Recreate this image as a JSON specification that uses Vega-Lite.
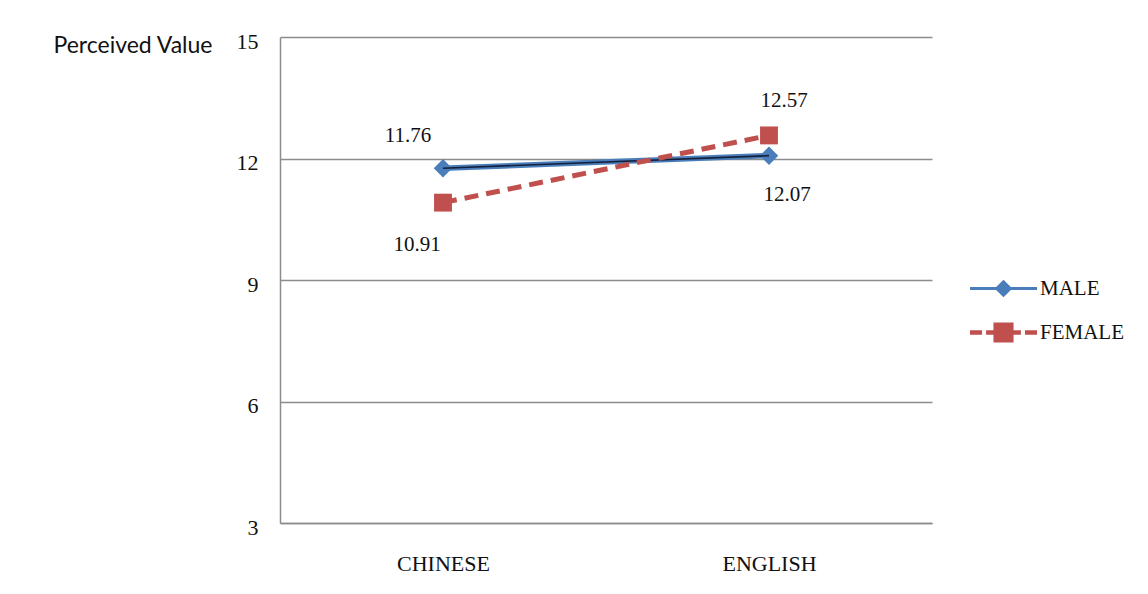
{
  "$schema": "https://vega.github.io/schema/vega-lite/v6.json",
  "autosize": {"type": "none"},
  "width": 652,
  "height": 486,
  "padding": {"left": 280, "top": 37, "right": 216, "bottom": 71},
  "background": "white",
  "config": {
    "view": {"stroke": null},
    "font": "Liberation Serif",
    "axis": {"labelFont": "Liberation Serif"}
  },
  "data": {
    "values": [
      {"language": "CHINESE", "gender": "MALE", "value": 11.76},
      {"language": "ENGLISH", "gender": "MALE", "value": 12.07},
      {"language": "CHINESE", "gender": "FEMALE", "value": 10.91},
      {"language": "ENGLISH", "gender": "FEMALE", "value": 12.57}
    ]
  },
  "encoding": {
    "x": {
      "field": "language",
      "type": "nominal",
      "sort": ["CHINESE", "ENGLISH"],
      "scale": {"type": "point", "padding": 0.5},
      "axis": {
        "title": null,
        "labelAngle": 0,
        "labelFont": "Liberation Serif",
        "labelFontSize": 22,
        "labelColor": "#111",
        "labelPadding": 30,
        "ticks": false,
        "domainColor": "#8c8c8c",
        "domainWidth": 1.5,
        "grid": false
      }
    },
    "y": {
      "field": "value",
      "type": "quantitative",
      "scale": {"domain": [3, 15], "nice": false, "zero": false},
      "axis": {
        "values": [3, 6, 9, 12, 15],
        "title": "Perceived Value",
        "titleAngle": 0,
        "titleAlign": "right",
        "titleBaseline": "middle",
        "titleX": -68,
        "titleY": 8,
        "titleFont": "Lato",
        "titleFontSize": 23,
        "titleFontWeight": "normal",
        "titleColor": "#111",
        "labelFont": "Liberation Serif",
        "labelFontSize": 22,
        "labelColor": "#111",
        "labelPadding": 22,
        "labelOffset": 4,
        "ticks": false,
        "domainColor": "#8c8c8c",
        "domainWidth": 1.5,
        "grid": true,
        "gridColor": "#8c8c8c",
        "gridWidth": 1.5
      }
    }
  },
  "layer": [
    {
      "transform": [{"filter": "datum.gender === 'MALE'"}],
      "mark": {"type": "line", "strokeWidth": 5.5},
      "encoding": {
        "color": {
          "field": "gender",
          "type": "nominal",
          "scale": {"domain": ["MALE", "FEMALE"], "range": ["#4A7EBB", "#C0504D"]},
          "legend": {
            "title": null,
            "orient": "none",
            "legendX": 690,
            "legendY": 218,
            "symbolSize": 4489,
            "symbolStrokeWidth": 0,
            "labelFont": "Liberation Serif",
            "labelFontSize": 21,
            "labelColor": "#111",
            "labelOffset": 3,
            "rowPadding": -7,
            "encode": {
              "symbols": {
                "update": {
                  "shape": {"signal": "datum.value === 'MALE' ? 'M-1,-0.045H-0.22L0,-0.26L0.22,-0.045H1V0.045H0.22L0,0.26L-0.22,0.045H-1Z' : 'M-1,-0.07H-0.64V0.07H-1Z M-0.52,-0.07H-0.3V-0.3H0.3V-0.07H0.52V0.07H0.3V0.3H-0.3V0.07H-0.52Z M0.64,-0.07H1V0.07H0.64Z'"},
                  "fill": {"signal": "datum.value === 'MALE' ? '#4A7EBB' : '#C0504D'"},
                  "stroke": {"value": "transparent"},
                  "strokeWidth": {"value": 0},
                  "strokeDash": {"value": []},
                  "opacity": {"value": 1}
                }
              }
            }
          }
        }
      }
    },
    {
      "transform": [{"filter": "datum.gender === 'MALE'"}],
      "mark": {"type": "point", "shape": "diamond", "size": 340, "filled": true, "opacity": 1, "color": "#4A7EBB"}
    },
    {
      "transform": [{"filter": "datum.gender === 'MALE'"}],
      "mark": {"type": "line", "strokeWidth": 1.6, "color": "#14213D"}
    },
    {
      "transform": [{"filter": "datum.gender === 'FEMALE'"}],
      "mark": {"type": "line", "strokeWidth": 5, "strokeDash": [14, 8]},
      "encoding": {
        "color": {"field": "gender", "type": "nominal"}
      }
    },
    {
      "transform": [{"filter": "datum.gender === 'FEMALE'"}],
      "mark": {"type": "point", "shape": "square", "size": 320, "filled": true, "opacity": 1, "color": "#C0504D"}
    },
    {
      "transform": [{"filter": "datum.gender === 'MALE' && datum.language === 'CHINESE'"}],
      "mark": {"type": "text", "font": "Liberation Serif", "fontSize": 21, "color": "#111", "dx": -35, "dy": -32},
      "encoding": {"text": {"field": "value", "type": "quantitative", "format": ".2f"}}
    },
    {
      "transform": [{"filter": "datum.gender === 'FEMALE' && datum.language === 'CHINESE'"}],
      "mark": {"type": "text", "font": "Liberation Serif", "fontSize": 21, "color": "#111", "dx": -26, "dy": 42},
      "encoding": {"text": {"field": "value", "type": "quantitative", "format": ".2f"}}
    },
    {
      "transform": [{"filter": "datum.gender === 'FEMALE' && datum.language === 'ENGLISH'"}],
      "mark": {"type": "text", "font": "Liberation Serif", "fontSize": 21, "color": "#111", "dx": 15, "dy": -34},
      "encoding": {"text": {"field": "value", "type": "quantitative", "format": ".2f"}}
    },
    {
      "transform": [{"filter": "datum.gender === 'MALE' && datum.language === 'ENGLISH'"}],
      "mark": {"type": "text", "font": "Liberation Serif", "fontSize": 21, "color": "#111", "dx": 18, "dy": 39},
      "encoding": {"text": {"field": "value", "type": "quantitative", "format": ".2f"}}
    }
  ]
}
